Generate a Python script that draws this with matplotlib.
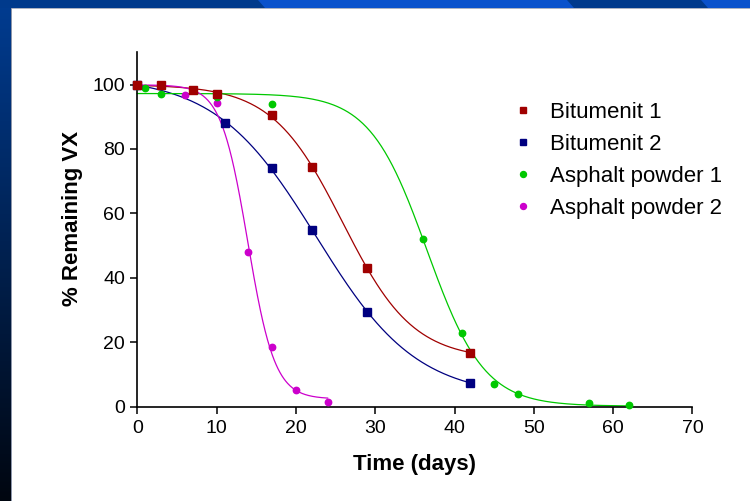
import numpy as np
import matplotlib
matplotlib.use("Agg")
import matplotlib.pyplot as plt
from matplotlib.lines import Line2D
from matplotlib.patches import Polygon

plt.rcParams['font.family'] = ['Liberation Sans', 'DejaVu Sans']

# ---------------- data ----------------
series_names = ["Bitumenit 1", "Bitumenit 2", "Asphalt powder 1", "Asphalt powder 2"]

bit1_days = [0, 3, 7, 10, 17, 22, 29, 42]
bit1_pct = [100, 99.8, 98.3, 97.0, 90.4, 74.4, 43.0, 16.8]

bit2_days = [0, 11, 17, 22, 29, 42]
bit2_pct = [100, 88.1, 74.0, 54.7, 29.5, 7.4]

asp1_days = [0, 1, 3, 10, 17, 36, 41, 45, 48, 57, 62]
asp1_pct = [99.5, 98.9, 97.0, 96.0, 94.1, 52.0, 22.9, 7.0, 3.9, 1.1, 0.5]

asp2_days = [0, 6, 10, 14, 17, 20, 24]
asp2_pct = [100, 96.7, 94.2, 48.1, 18.6, 5.1, 1.4]

x_ticks = [0, 10, 20, 30, 40, 50, 60, 70]
y_ticks = [0, 20, 40, 60, 80, 100]

colors = ["#a00000", "#000080", "#00c800", "#cc00cc"]
markers = ["s", "s", "o", "o"]


# ---------------- sigmoidal (Boltzmann) fit ----------------
def boltz(x, p):
    top, bot, v50, s = p
    return bot + (top - bot) / (1.0 + np.exp((x - v50) / s))


def fit_boltz(x, y):
    x = np.asarray(x, float)
    y = np.asarray(y, float)
    mid = (y.max() + y.min()) / 2
    p = np.array([y.max(), y.min(), x[np.argmin(np.abs(y - mid))],
                  (x.max() - x.min()) / 10])
    lam = 1e-3

    def sse(q):
        return np.sum((y - boltz(x, q)) ** 2)

    cur = sse(p)
    for _ in range(3000):
        r = y - boltz(x, p)
        J = np.empty((len(x), 4))
        for k in range(4):
            h = 1e-6 * max(1.0, abs(p[k]))
            d = np.zeros(4)
            d[k] = h
            J[:, k] = (boltz(x, p + d) - boltz(x, p - d)) / (2 * h)
        A = J.T @ J
        g = J.T @ r
        try:
            step = np.linalg.solve(A + lam * np.diag(np.diag(A)) + 1e-12 * np.eye(4), g)
        except np.linalg.LinAlgError:
            lam *= 10
            continue
        new = p + step
        if new[3] <= 0.05:
            lam *= 5
            continue
        ns = sse(new)
        if ns < cur:
            p, cur = new, ns
            lam = max(lam / 3, 1e-10)
        else:
            lam *= 3
        if lam > 1e12:
            break
    return p


# ---------------- figure ----------------
fig = plt.figure(figsize=(7.5, 5.01), dpi=100)
fig.patch.set_facecolor("white")

# decorative slide frame (background)
bg = fig.add_axes([0, 0, 1, 1], zorder=-5)
bg.set_xlim(0, 750)
bg.set_ylim(501, 0)
bg.axis("off")
grad = np.linspace(0, 1, 256)[:, None]
c_top = np.array([0, 60, 145]) / 255
c_bot = np.array([0, 6, 16]) / 255
img = (c_top[None, None, :] * (1 - grad[:, :, None]) + c_bot[None, None, :] * grad[:, :, None])
bg.imshow(img, extent=[0, 11, 501, 0], aspect="auto", interpolation="bilinear")
bg.add_patch(Polygon([[0, 0], [750, 0], [750, 8], [0, 8]], closed=True,
                     facecolor="#003a8c", edgecolor="none"))
bg.add_patch(Polygon([[258, 0], [567, 0], [574, 8], [265, 8]], closed=True,
                     facecolor="#0a52cc", edgecolor="none"))
bg.add_patch(Polygon([[701, 0], [750, 0], [750, 8], [708, 8]], closed=True,
                     facecolor="#0a52cc", edgecolor="none"))
bg.plot([11, 11], [8, 501], color="#8a93a8", lw=0.7)
bg.plot([11, 750], [8, 8], color="#8a93a8", lw=0.5)

ax = fig.add_axes([0.1831, 0.1882, 0.7401, 0.7074])
ax.set_facecolor("none")

all_x = [bit1_days, bit2_days, asp1_days, asp2_days]
all_y = [bit1_pct, bit2_pct, asp1_pct, asp2_pct]

for xs, ys, c in zip(all_x, all_y, colors):
    p = fit_boltz(xs, ys)
    xx = np.linspace(min(xs), max(xs), 400)
    ax.plot(xx, boltz(xx, p), color=c, lw=0.9, zorder=2, clip_on=False)

order = [3, 2, 1, 0]
for i in order:
    ms = 5.6 if markers[i] == "s" else 4.6
    ax.plot(all_x[i], all_y[i], linestyle="none", marker=markers[i], ms=ms,
            color=colors[i], mec=colors[i], zorder=3 + (3 - i), clip_on=False)

ax.set_xlim(0, 70)
ax.set_ylim(0, 110)
ax.set_xticks(x_ticks)
ax.set_yticks(y_ticks)
for s in ["top", "right"]:
    ax.spines[s].set_visible(False)
for s in ["left", "bottom"]:
    ax.spines[s].set_linewidth(1.2)
ax.tick_params(direction="out", length=4.8, width=1.1, labelsize=14, pad=4)
ax.tick_params(axis="x", pad=5)

ax.set_xlabel("Time (days)", fontsize=16, fontweight="bold", labelpad=12)
ax.set_ylabel("% Remaining VX", fontsize=16, fontweight="bold")
ax.yaxis.set_label_coords(-0.097, 0.53)

handles = [Line2D([], [], linestyle="none", marker=m, color=c, ms=4.3)
           for m, c in zip(markers, colors)]
leg = fig.legend(handles, series_names, loc="upper left",
                 bbox_to_anchor=(0.6707, 0.814), frameon=False, fontsize=16,
                 handlelength=1.0, handletextpad=0.72, labelspacing=0.49,
                 borderaxespad=0, borderpad=0.4)

fig.savefig("out.png", dpi=100, facecolor="white")
